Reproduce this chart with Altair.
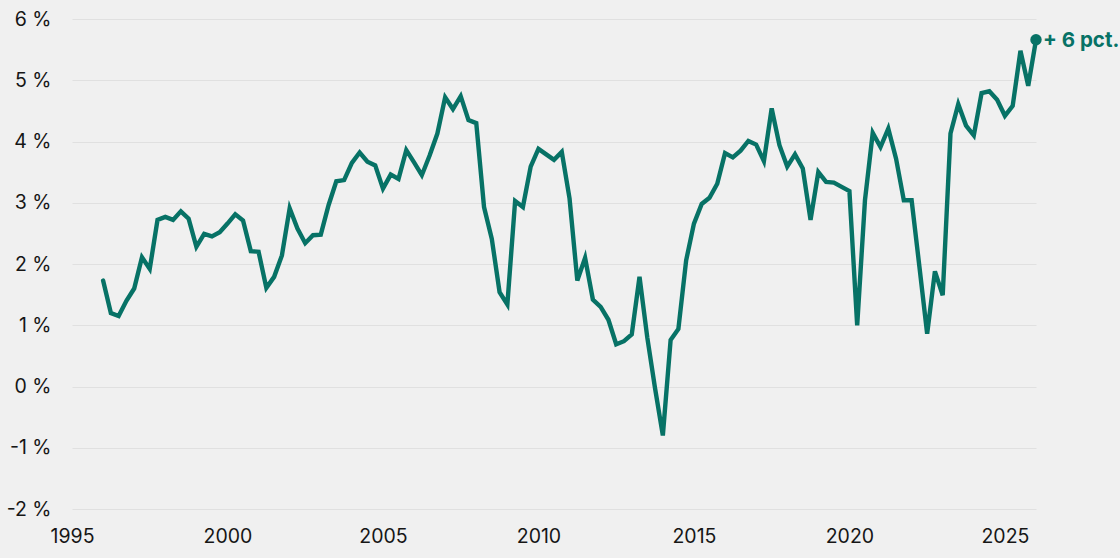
import altair as alt
import pandas as pd

start_year = 1996.0
values = [
    1.73, 1.20, 1.15, 1.40, 1.60, 2.11, 1.92, 2.72,   # 1996-1997
    2.77, 2.72, 2.86, 2.74, 2.28, 2.49, 2.45, 2.52,   # 1998-1999
    2.66, 2.81, 2.71, 2.21, 2.20, 1.61, 1.79, 2.14,   # 2000-2001
    2.91, 2.58, 2.34, 2.47, 2.48, 2.96, 3.35, 3.37,   # 2002-2003
    3.65, 3.82, 3.67, 3.61, 3.23, 3.46, 3.39, 3.86,   # 2004-2005
    3.66, 3.45, 3.77, 4.13, 4.72, 4.53, 4.74, 4.35,   # 2006-2007
    4.30, 2.93, 2.41, 1.54, 1.34, 3.03, 2.93, 3.59,   # 2008-2009
    3.88, 3.79, 3.70, 3.83, 3.07, 1.73, 2.10, 1.42,   # 2010-2011
    1.30, 1.09, 0.69, 0.74, 0.85, 1.79, 0.80, -0.03,  # 2012-2013
    -0.80, 0.76, 0.94, 2.06, 2.66, 2.98, 3.08, 3.31,  # 2014-2015
    3.81, 3.74, 3.85, 4.01, 3.95, 3.68, 4.54, 3.94,   # 2016-2017
    3.59, 3.79, 3.56, 2.72, 3.50, 3.34, 3.33, 3.26,   # 2018-2019
    3.19, 1.00, 3.04, 4.14, 3.91, 4.21, 3.72, 3.04,   # 2020-2021
    3.04, 1.96, 0.86, 1.88, 1.49, 4.13, 4.61, 4.26,   # 2022-2023
    4.10, 4.79, 4.82, 4.68, 4.42, 4.58, 5.48, 4.91,   # 2024-2025
    5.66,                                             # 2026
]
years = [start_year + 0.25 * i for i in range(len(values))]
x_ticks = [1995, 2000, 2005, 2010, 2015, 2020, 2025]
y_ticks = [-2, -1, 0, 1, 2, 3, 4, 5, 6]
end_label = "+ 6 pct."

df = pd.DataFrame({"year": years, "value": values})
last = df.tail(1).assign(label=end_label)

TEAL = "#077266"
FONT = "Inter"
LABEL = "#161616"

x = alt.X("year:Q",
          scale=alt.Scale(domain=[1995, 2026], nice=False, zero=False),
          axis=alt.Axis(values=x_ticks, format="d", grid=False, domain=False,
                        ticks=False, labelPadding=18, labelFontSize=19.5,
                        labelFlush=False, labelOverlap=False,
                        labelColor=LABEL, labelFont=FONT, title=None))
y = alt.Y("value:Q",
          scale=alt.Scale(domain=[-2, 6], nice=False, zero=False),
          axis=alt.Axis(values=y_ticks, labelExpr="datum.value + ' %'",
                        grid=True, gridColor="#e0e0e0", gridWidth=1.2,
                        domain=False, ticks=False, labelPadding=21,
                        labelFontSize=19.5, labelColor=LABEL,
                        labelFlush=False, labelOverlap=False,
                        labelFont=FONT, title=None))

line = alt.Chart(df).mark_line(color=TEAL, strokeWidth=4.4,
                               strokeJoin="miter", strokeCap="round").encode(x=x, y=y)
dot = alt.Chart(last).mark_point(color=TEAL, filled=True, opacity=1,
                                 size=130).encode(x=x, y=y)
text = alt.Chart(last).mark_text(color=TEAL, fontWeight="bold", fontSize=20.5,
                                 font=FONT, align="left", baseline="middle",
                                 dx=7, dy=1).encode(x=x, y=y, text="label:N")

chart = (line + dot + text).properties(
    width=964, height=490,
    background="#f0f0f0",
    padding={"left": 72, "top": 19, "right": 84, "bottom": 49},
    autosize=alt.AutoSizeParams(type="none"),
).configure_view(strokeWidth=0)

chart.save("out.html", embed_options={"renderer": "svg", "actions": False})
